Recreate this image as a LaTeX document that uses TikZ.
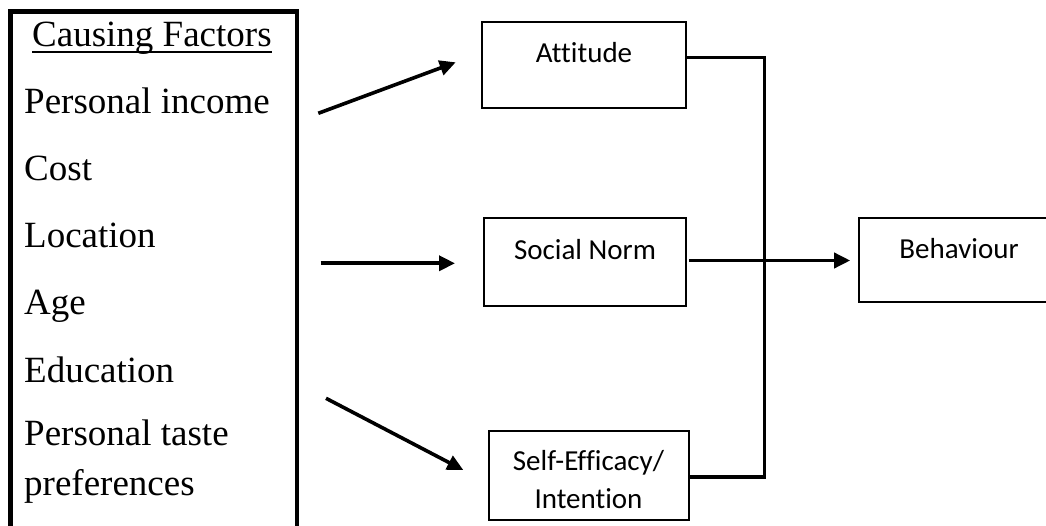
\documentclass[tikz,border=0pt]{standalone}
\usepackage{fontspec}
\setmainfont{Liberation Serif}
\newfontfamily\calib[Ligatures=NoCommon]{Carlito}
\usetikzlibrary{arrows.meta}
\tikzset{
  serif/.style={font=\fontsize{37}{44}\selectfont, inner sep=0pt, anchor=base west},
  boxtxt/.style={font=\calib\fontsize{29}{35}\selectfont, inner sep=0pt, anchor=base},
  rbox/.style={draw, line width=2pt, anchor=north west, inner sep=0pt, outer sep=0pt},
  arr/.style={line width=3.6pt, -{Triangle[length=16pt,width=15pt]}},
  conn/.style={line width=3.6pt},
}
\begin{document}
\begin{tikzpicture}[x=1pt,y=-1pt]
\useasboundingbox (0,0) rectangle (1046,526);
\clip (0,0) rectangle (1046,526);
\fill[white] (0,0) rectangle (1046,526);
% left box
\node[draw, line width=4.2pt, anchor=north west, minimum width=286.5pt, minimum height=580pt, inner sep=0pt, outer sep=0pt] (factors) at (10.5,11.5) {};
\node[serif] (cf) at (32,47) {Causing Factors};
\draw[line width=1.8pt] ([yshift=-5pt]cf.base west) -- ([yshift=-5pt]cf.base east);
\node[serif] (f1) at (24,114) {Personal income};
\node[serif] (f2) at (24,181) {Cost};
\node[serif] (f3) at (24,248) {Location};
\node[serif] (f4) at (24,315) {Age};
\node[serif] (f5) at (24,382) {Education};
\node[serif] (f6) at (24,445) {Personal taste};
\node[serif] (f7) at (24,495) {preferences};
% right boxes
\node[rbox, minimum width=204.3pt, minimum height=86pt] (att) at (481.7,22.3) {};
\node[boxtxt] (attt) at (584,63) {Attitude};
\node[rbox, minimum width=202.5pt, minimum height=87.5pt] (sn) at (483.7,218.2) {};
\node[boxtxt] (snt) at (585,260) {Social Norm};
\node[rbox, minimum width=199.4pt, minimum height=89pt] (se) at (489.2,431) {};
\node[boxtxt] (set1) at (588.5,470) {Self-Efficacy/};
\node[boxtxt] (set2) at (588.5,508) {Intention};
\node[rbox, minimum width=250pt, minimum height=83.6pt] (beh) at (859.2,218.2) {};
\node[boxtxt] (beht) at (959,259) {Behaviour};
% arrows from factors
\coordinate (a1s) at (318.3,113.3); \coordinate (a1e) at (455.7,62.3);
\coordinate (a2s) at (320.7,263.3); \coordinate (a2e) at (455,263.3);
\coordinate (a3s) at (326,398.3);   \coordinate (a3e) at (463.3,470);
\draw[arr] (a1s) -- (a1e);
\draw[arr] (a2s) -- (a2e);
\draw[arr] (a3s) -- (a3e);
% connector to behaviour
\coordinate (jA) at (764.5,57.7);
\coordinate (jS) at (764.5,477);
\coordinate (snA) at (700,260.5);
\draw[conn] (att.east |- jA) -- (jA) -- (jS) -- (se.east |- jS);
\draw[arr, shorten <=3pt, shorten >=9pt] (sn.east |- snA) -- (beh.west |- snA);
\end{tikzpicture}
\end{document}
